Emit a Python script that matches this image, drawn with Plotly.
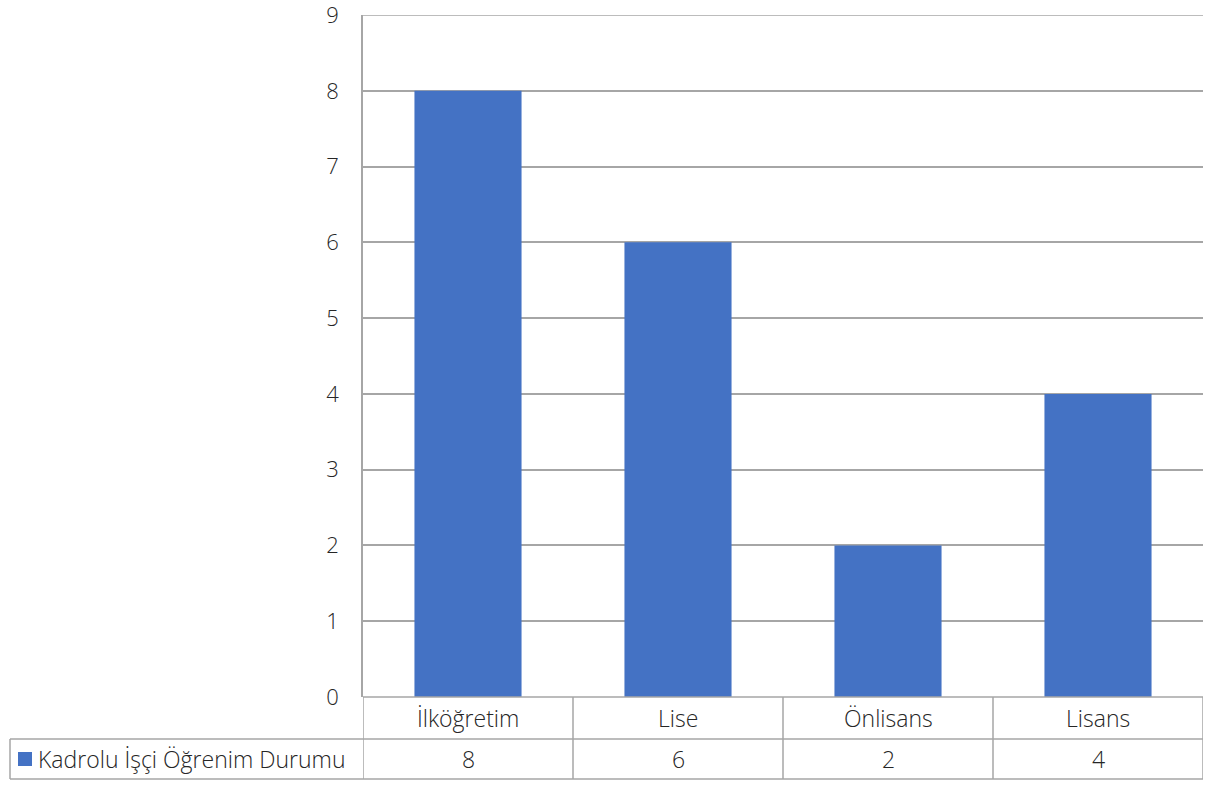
import plotly.graph_objects as go

# Education levels of permanent workers
categories = ["İlköğretim", "Lise", "Önlisans", "Lisans"]
values = [8, 6, 2, 4]
series_name = "Kadrolu İşçi Öğrenim Durumu"
y_ticks = list(range(0, 10))

BAR = "#4472C4"
GRID = "#A6A6A6"
TEXT = "#262626"
FONT = "Open Sans"
WEIGHT = 300

W, H = 1214, 787
L, R, T, B = 363, 11, 15, 90
plot_h = H - T - B
plot_w = W - L - R


def py(px):
    # pixel row below the plot bottom -> paper y
    return -(px - (H - B)) / plot_h


def px_x(px):
    return (px - L) / plot_w


fig = go.Figure()
fig.add_trace(go.Bar(
    x=list(range(len(categories))), y=values, name=series_name,
    marker=dict(color=BAR, line=dict(width=0)), width=0.51,
    showlegend=False, hoverinfo="x+y",
))

row1 = py(739)
row2 = py(779)
left = px_x(10)
n = len(categories)

shapes = []
line = dict(color=GRID, width=1.5)
# top gridline of the value axis
shapes.append(dict(type="line", xref="paper", yref="y", x0=0, x1=1, y0=max(y_ticks), y1=max(y_ticks), line=line))
# horizontal table rules
shapes.append(dict(type="line", xref="x", yref="paper", x0=-0.5, x1=n - 0.5, y0=0, y1=0, line=line))
shapes.append(dict(type="line", xref="paper", yref="paper", x0=left, x1=1, y0=row1, y1=row1, line=line))
shapes.append(dict(type="line", xref="paper", yref="paper", x0=left, x1=1, y0=row2, y1=row2, line=line))
# vertical table rules
for i in range(n + 1):
    shapes.append(dict(type="line", xref="x", yref="paper", x0=i - 0.5, x1=i - 0.5,
                       y0=row2, y1=0, line=line))
shapes.append(dict(type="line", xref="paper", yref="paper", x0=left, x1=left,
                   y0=row2, y1=row1, line=line))
# legend key
shapes.append(dict(type="rect", xref="paper", yref="paper", x0=px_x(18), x1=px_x(32),
                   y0=py(766), y1=py(752), fillcolor=BAR, line=dict(width=0)))

tfont = dict(family=FONT, size=23, color=TEXT, weight=WEIGHT)
annotations = []
for i, (c, v) in enumerate(zip(categories, values)):
    annotations.append(dict(x=i, y=(0 + row1) / 2, xref="x", yref="paper", text=c,
                            yanchor="middle", showarrow=False, font=tfont))
    annotations.append(dict(x=i, y=(row1 + row2) / 2, xref="x", yref="paper", text=str(v),
                            yanchor="middle", showarrow=False, font=tfont))
annotations.append(dict(x=px_x(36), y=(row1 + row2) / 2, xref="paper", yref="paper",
                        text=series_name, xanchor="left", yanchor="middle", showarrow=False,
                        font=tfont))

fig.update_layout(
    width=W, height=H,
    margin=dict(l=L, r=R, t=T, b=B),
    plot_bgcolor="white", paper_bgcolor="white",
    font=dict(family=FONT, size=23, color=TEXT, weight=WEIGHT),
    shapes=shapes, annotations=annotations,
)
fig.update_xaxes(range=[-0.5, n - 0.5], showticklabels=False, showgrid=False,
                 zeroline=False, showline=False, fixedrange=True, automargin=False)
fig.update_yaxes(range=[0, 9.0005], tickvals=y_ticks, ticktext=[str(t) for t in y_ticks],
                 showgrid=True, gridcolor=GRID, gridwidth=1.5,
                 zeroline=False, showline=True, linecolor=GRID, linewidth=1.5,
                 ticks="", ticklabelstandoff=18, ticklabeloverflow="allow", automargin=False,
                 tickfont=dict(family=FONT, size=22, color=TEXT, weight=WEIGHT))

fig.write_html("out.html")
